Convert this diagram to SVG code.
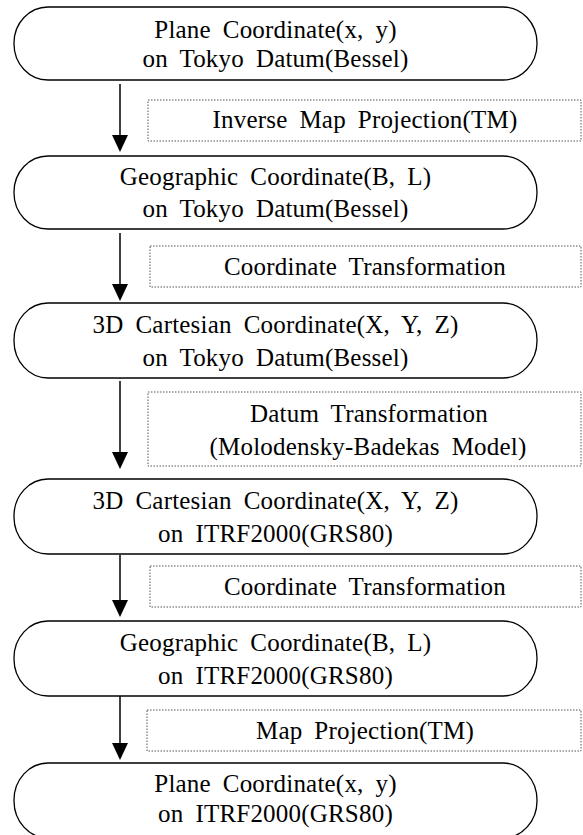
<svg xmlns="http://www.w3.org/2000/svg" width="583" height="835" viewBox="0 0 583 835">
<style>
  .node rect { fill: #ffffff; stroke: #000000; stroke-width: 1.3; }
  .box { fill: none; stroke: #555555; stroke-width: 1; stroke-dasharray: 1.5 1.5; }
  .t { font-family: "Liberation Serif", "Times New Roman", serif; font-size: 25px; fill: #000000; letter-spacing: 0.2px; word-spacing: 5.5px; text-anchor: middle; }
  .conn line { stroke: #000000; stroke-width: 1.5; }
  .conn polygon { fill: #000000; }
</style>
<rect x="0" y="0" width="583" height="835" fill="#ffffff"/>
<g id="connectors" class="conn">
  <line x1="120" y1="84" x2="120" y2="138"/>
  <polygon points="112,135 128,135 120,152"/>
  <line x1="120" y1="233" x2="120" y2="286"/>
  <polygon points="112,284 128,284 120,301"/>
  <line x1="120" y1="381" x2="120" y2="455"/>
  <polygon points="112,452 128,452 120,469"/>
  <line x1="120" y1="555" x2="120" y2="603"/>
  <polygon points="112,600 128,600 120,617"/>
  <line x1="120" y1="696" x2="120" y2="746"/>
  <polygon points="112,743 128,743 120,760"/>
</g>
<g id="node1" class="node">
  <rect x="14" y="7" width="523" height="73" rx="34" ry="36"/>
  <text class="t" x="275.5" y="38">Plane Coordinate(x, y)</text>
  <text class="t" x="275.5" y="67">on Tokyo Datum(Bessel)</text>
</g>
<g id="label1">
  <rect class="box" x="148" y="100" width="433" height="41"/>
  <text class="t" x="365" y="128">Inverse Map Projection(TM)</text>
</g>
<g id="node2" class="node">
  <rect x="14" y="156" width="523" height="73" rx="34" ry="36"/>
  <text class="t" x="275.5" y="185">Geographic Coordinate(B, L)</text>
  <text class="t" x="275.5" y="217">on Tokyo Datum(Bessel)</text>
</g>
<g id="label2">
  <rect class="box" x="150" y="246" width="431" height="41"/>
  <text class="t" x="365" y="275">Coordinate Transformation</text>
</g>
<g id="node3" class="node">
  <rect x="14" y="303" width="523" height="75" rx="34" ry="37"/>
  <text class="t" x="275.5" y="333">3D Cartesian Coordinate(X, Y, Z)</text>
  <text class="t" x="275.5" y="366">on Tokyo Datum(Bessel)</text>
</g>
<g id="label3">
  <rect class="box" x="148" y="392" width="433" height="74"/>
  <text class="t" x="369" y="422">Datum Transformation</text>
  <text class="t" x="368" y="455">(Molodensky-Badekas Model)</text>
</g>
<g id="node4" class="node">
  <rect x="14" y="479" width="523" height="75" rx="34" ry="37"/>
  <text class="t" x="275.5" y="509">3D Cartesian Coordinate(X, Y, Z)</text>
  <text class="t" x="275.5" y="542">on ITRF2000(GRS80)</text>
</g>
<g id="label4">
  <rect class="box" x="150" y="566" width="431" height="41"/>
  <text class="t" x="365" y="595">Coordinate Transformation</text>
</g>
<g id="node5" class="node">
  <rect x="14" y="621" width="523" height="75" rx="34" ry="37"/>
  <text class="t" x="275.5" y="651">Geographic Coordinate(B, L)</text>
  <text class="t" x="275.5" y="684">on ITRF2000(GRS80)</text>
</g>
<g id="label5">
  <rect class="box" x="147" y="710" width="434" height="41"/>
  <text class="t" x="365" y="739">Map Projection(TM)</text>
</g>
<g id="node6" class="node">
  <rect x="14" y="763" width="523" height="75" rx="34" ry="37"/>
  <text class="t" x="275.5" y="792">Plane Coordinate(x, y)</text>
  <text class="t" x="275.5" y="822">on ITRF2000(GRS80)</text>
</g>
</svg>
